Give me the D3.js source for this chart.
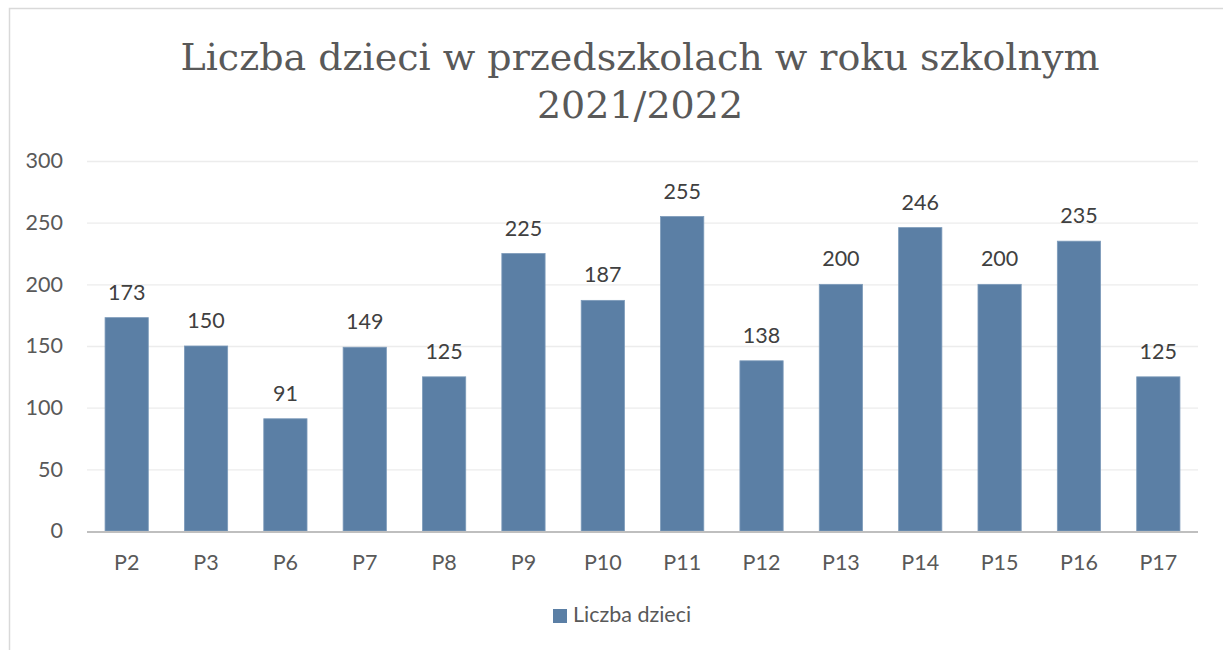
<!DOCTYPE html>
<html><head><meta charset="utf-8">
<script src="https://cdn.jsdelivr.net/npm/d3@7"></script>
<style>html,body{margin:0;padding:0;background:#fff;}</style>
</head><body>
<svg id="c" width="1223" height="650"></svg>
<script>
const categories = ["P2","P3","P6","P7","P8","P9","P10","P11","P12","P13","P14","P15","P16","P17"];
const values = [173,150,91,149,125,225,187,255,138,200,246,200,235,125];
const yTicks = [0,50,100,150,200,250,300];
const titleLines = ["Liczba dzieci w przedszkolach w roku szkolnym","2021/2022"];
const seriesName = "Liczba dzieci";

const svg = d3.select("#c");
const W = 1223, H = 650;
const m = {left: 87, right: 1198, top: 161, bottom: 531};
const labelFont = "Lato, 'Open Sans', sans-serif";
const fs = "21.5px";
const txt = "#595959";
const barColor = "#5b7fa5";

svg.append("rect").attr("x",9.5).attr("y",8.5).attr("width",W).attr("height",H)
  .attr("fill","#fff").attr("stroke","#d9d9d9").attr("stroke-width",1.5);

const x = d3.scaleBand().domain(categories).range([m.left, m.right]).paddingInner(0.455).paddingOuter(0.2275);
const y = d3.scaleLinear().domain([0,300]).range([m.bottom, m.top]);

// gridlines
svg.append("g").selectAll("line").data(yTicks.filter(t=>t>0)).join("line")
  .attr("x1",m.left).attr("x2",m.right)
  .attr("y1",d=>y(d)+0.5).attr("y2",d=>y(d)+0.5)
  .attr("stroke","#ececec").attr("stroke-width",1.3);

// y axis labels
const yAxis = d3.axisLeft(y).tickValues(yTicks).tickSize(0).tickPadding(0);
const ya = svg.append("g").attr("transform",`translate(${63},0)`).call(yAxis);
ya.select(".domain").remove();
ya.selectAll("text").attr("fill",txt).style("font-family",labelFont).style("font-size",fs);

// bars
svg.append("g").selectAll("rect").data(values).join("rect")
  .attr("x",(d,i)=>x(categories[i]))
  .attr("width",x.bandwidth())
  .attr("y",d=>y(d))
  .attr("height",d=>y(0)-y(d))
  .attr("fill",barColor)
  .attr("stroke","#7d9bba").attr("stroke-width",0.8);

// x axis baseline
svg.append("line").attr("x1",m.left).attr("x2",m.right).attr("y1",y(0)+1).attr("y2",y(0)+1)
  .attr("stroke","#bfbfbf").attr("stroke-width",2.2);

// x labels
const xAxis = d3.axisBottom(x).tickSize(0).tickPadding(0);
const xa = svg.append("g").attr("transform",`translate(0,${570})`).call(xAxis);
xa.select(".domain").remove();
xa.selectAll("text").attr("dy",0).attr("y",0).attr("fill",txt).style("font-family",labelFont).style("font-size",fs);

// data labels
svg.append("g").selectAll("text").data(values).join("text")
  .attr("x",(d,i)=>x(categories[i])+x.bandwidth()/2)
  .attr("y",d=>y(d)-18)
  .attr("text-anchor","middle").attr("fill","#404040")
  .style("font-family",labelFont).style("font-size",fs)
  .text(d=>d);

// title
svg.append("g").selectAll("text").data(titleLines).join("text")
  .attr("x",640).attr("y",(d,i)=>70+i*48)
  .attr("text-anchor","middle").attr("fill",txt)
  .style("font-family","'DejaVu Serif', serif").style("font-size","38px")
  .text(d=>d);

// legend
const lg = svg.append("g");
lg.append("rect").attr("x",553).attr("y",609).attr("width",14).attr("height",14).attr("fill",barColor);
lg.append("text").attr("x",573).attr("y",622).attr("fill",txt)
  .style("font-family",labelFont).style("font-size",fs).text(seriesName);
</script>
</body></html>
